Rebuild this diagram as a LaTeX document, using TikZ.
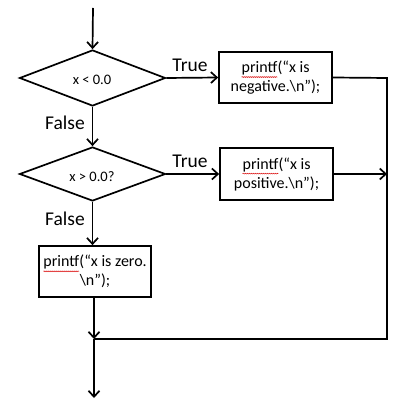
\documentclass[tikz,border=0pt]{standalone}
\usepackage{fontspec}
\setmainfont{Carlito}
\usetikzlibrary{shapes.geometric,arrows.meta,decorations.pathmorphing}
\newcommand\squig[1]{\tikz[baseline=(w.base)]{\node[shape=rectangle,draw=none,inner sep=0pt,outer sep=0pt,minimum width=0pt,minimum height=0pt,anchor=base](w) at (0,0){#1};\draw[red!85!black,line width=0.5pt,decorate,decoration={snake,amplitude=0.45pt,segment length=2pt}]([yshift=-2pt]w.south west)--([yshift=-2pt]w.south east);}}
\begin{document}
\begin{tikzpicture}[x=1pt,y=1pt,
  every path/.style={line width=1.7pt},
  arr/.style={-{Straight Barb[length=6pt,width=11pt]}},
  dec/.style={diamond,draw,line width=1.7pt,inner sep=0pt},
  dtext/.style={font=\fontsize{14.5}{18}\selectfont,inner sep=0pt},
  box/.style={rectangle,draw,line width=1.7pt,align=center,inner sep=0pt,font=\fontsize{16}{19}\selectfont},
  lab/.style={font=\fontsize{19.5}{22}\selectfont,inner sep=0pt}]
\useasboundingbox (0,0) rectangle (410,-411);
\coordinate (start) at (93,-8);
\node[dec,minimum width=146,minimum height=56] (d1) at (92.5,-78) {};
\node[dtext] (t1) at (92,-80) {x < 0.0};
\node[box,minimum width=113,minimum height=51] (b1) at (275.5,-77.5) {\squig{printf}(“x is\\negative.\textbackslash n”);};
\node[dec,minimum width=146,minimum height=54] (d2) at (92.5,-174) {};
\node[dtext] (t2) at (92,-177) {x > 0.0?};
\node[box,minimum width=113,minimum height=52] (b2) at (276.5,-174) {\squig{printf}(“x is\\positive.\textbackslash n”);};
\node[box,minimum width=112,minimum height=51] (b3) at (95,-271.5) {\squig{printf}(“x is zero.\\\textbackslash n”);};
\coordinate (rt) at (387,-78);
\coordinate (rb) at (387,-339);
\coordinate (join) at (94,-339);
\coordinate (end) at (94,-398);
\node[lab] (lt1) at (190,-65) {True};
\node[lab] (lt2) at (190,-161) {True};
\node[lab] (lf1) at (65,-123) {False};
\node[lab] (lf2) at (65,-219) {False};
\draw[arr] (start) -- (d1.north);
\draw[arr] (d1.east) -- (b1.west);
\draw[arr] (d1.south) -- (d2.north);
\draw[arr] (d2.east) -- (b2.west);
\draw[arr] (b2.east) -- (b2.east -| rt);
\draw[arr] (d2.south) -- (d2.south |- b3.north);
\draw (b1.east) -- (rt) -- (rb) -- (join);
\draw[arr] (b3.south -| join) -- (join);
\draw[arr] (join) -- (end);
\end{tikzpicture}
\end{document}
